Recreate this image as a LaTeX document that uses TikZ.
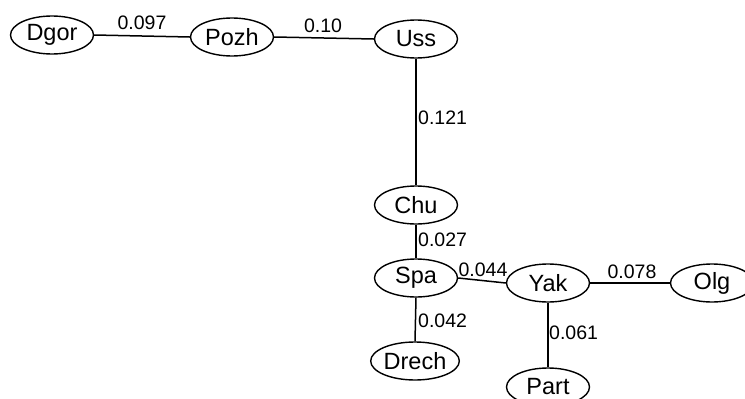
\documentclass[tikz,border=0pt]{standalone}
\usepackage{fontspec}
\setmainfont{Liberation Sans}
\usetikzlibrary{shapes.geometric}
\begin{document}
\begin{tikzpicture}[x=1pt,y=-1pt,
  taxon/.style={ellipse,draw,line width=1.4pt,minimum width=83pt,minimum height=38pt,inner sep=0pt,font=\fontsize{23.5}{27}\selectfont},
  edge/.style={line width=1.5pt},
  dist/.style={inner sep=0pt,font=\fontsize{19.5}{23}\selectfont}]
\useasboundingbox (0,0) rectangle (745,399);
% taxa
\node[taxon] (dgor)  at (52,35)   {Dgor};
\node[taxon] (pozh)  at (232,37)  {Pozh};
\node[taxon] (uss)   at (416,39)  {Uss};
\node[taxon] (chu)   at (416,205) {Chu};
\node[taxon] (spa)   at (416,278) {Spa};
\node[taxon] (yak)   at (548,283) {Yak};
\node[taxon] (olg)   at (712,283) {Olg};
\node[taxon] (drech) at (415,361) {Drech};
\node[taxon] (part)  at (548,387) {Part};
% branches
\draw[edge] (dgor.east) -- (pozh.west);
\draw[edge] (pozh.east) -- (uss.west);
\draw[edge] (uss.south) -- (chu.north);
\draw[edge] (chu.south) -- (spa.north);
\draw[edge] (spa.east) -- (yak.west);
\draw[edge] (yak.east) -- (olg.west);
\draw[edge] (spa.south) -- (drech.north);
\draw[edge] (yak.south) -- (part.north);
% distances
\node[dist] (d1) at (142,23) {0.097};
\node[dist] (d2) at (323,26) {0.10};
\node[dist,anchor=west] (d3) at (418,118) {0.121};
\node[dist,anchor=west] (d4) at (418,240) {0.027};
\node[dist] (d5) at (483,270) {0.044};
\node[dist,anchor=west] (d6) at (418,321) {0.042};
\node[dist,anchor=west] (d7) at (549,333) {0.061};
\node[dist] (d8) at (632,272) {0.078};
\end{tikzpicture}
\end{document}
